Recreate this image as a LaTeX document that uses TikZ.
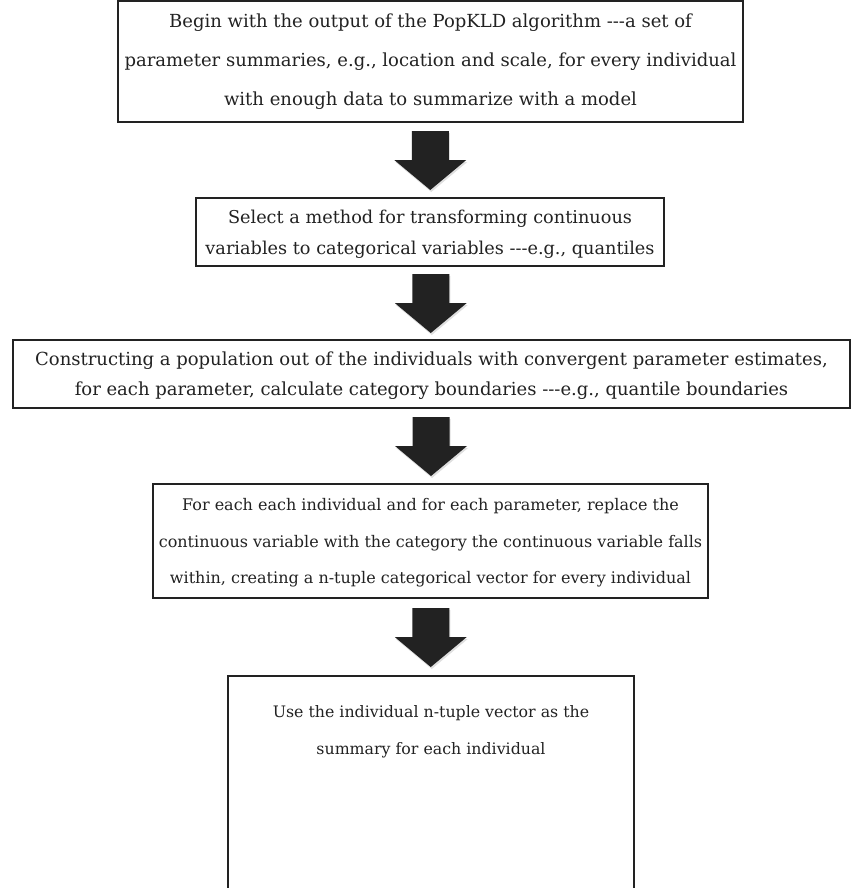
\documentclass[tikz,border=0pt]{standalone}
\usepackage{fontspec}
\setmainfont{DejaVu Serif}[Ligatures=TeXOff]
\usetikzlibrary{calc,shadows}
\definecolor{ink}{HTML}{222222}
\newcommand{\flowarrow}[2]{%
  \path[blockarrow] let \p1=($(#1)!0.5!(#2)$) in
    (\x1-18.5pt,\y1+29pt) -- (\x1+18.5pt,\y1+29pt) -- (\x1+18.5pt,\y1) -- (\x1+36pt,\y1)
    -- (\x1,\y1-30pt) -- (\x1-36pt,\y1) -- (\x1-18.5pt,\y1) -- cycle;}
\begin{document}
\frenchspacing
\begin{tikzpicture}[x=1pt,y=-1pt,
  box/.style={draw=ink, line width=2pt, fill=white, inner sep=0pt, align=center, text=ink},
  txt/.style={inner sep=0pt, align=center, text=ink},
  blockarrow/.style={fill=ink, draw=none,
    drop shadow={opacity=0.25, shadow xshift=1pt, shadow yshift=-2pt}}]
\useasboundingbox (0,0) rectangle (863,888);
\clip (0,0) rectangle (863,888);
\node[box, minimum width=625pt, minimum height=121pt, font=\fontsize{18}{39}\selectfont] (b1) at (430.5,61.5)
  {Begin with the output of the PopKLD algorithm ---a set of\\
   parameter summaries, e.g., location and scale, for every individual\\
   with enough data to summarize with a model};
\node[box, minimum width=468pt, minimum height=68pt] (b2) at (430,232) {};
\node[txt, font=\fontsize{17.7}{31}\selectfont] (t2) at (430,234)
  {Select a method for transforming continuous\\
   variables to categorical variables ---e.g., quantiles};
\node[box, minimum width=837pt, minimum height=68pt] (b3) at (431.5,374) {};
\node[txt, font=\fontsize{18}{30}\selectfont] (t3) at (431.5,375.5)
  {Constructing a population out of the individuals with convergent parameter estimates,\\
   for each parameter, calculate category boundaries ---e.g., quantile boundaries};
\node[box, minimum width=555pt, minimum height=114pt] (b4) at (430.5,541) {};
\node[txt, font=\fontsize{16}{36.5}\selectfont] (t4) at (430.5,543)
  {For each each individual and for each parameter, replace the\\
   continuous variable with the category the continuous variable falls\\
   within, creating a n-tuple categorical vector for every individual};
\node[box, minimum width=406pt, minimum height=240pt] (b5) at (431,796) {};
\node[txt, font=\fontsize{15.8}{37}\selectfont] (t5) at (431,732)
  {Use the individual n-tuple vector as the\\
   summary for each individual};
\flowarrow{b1.south}{b2.north}
\flowarrow{b2.south}{b3.north}
\flowarrow{b3.south}{b4.north}
\flowarrow{b4.south}{b5.north}
\end{tikzpicture}
\end{document}
